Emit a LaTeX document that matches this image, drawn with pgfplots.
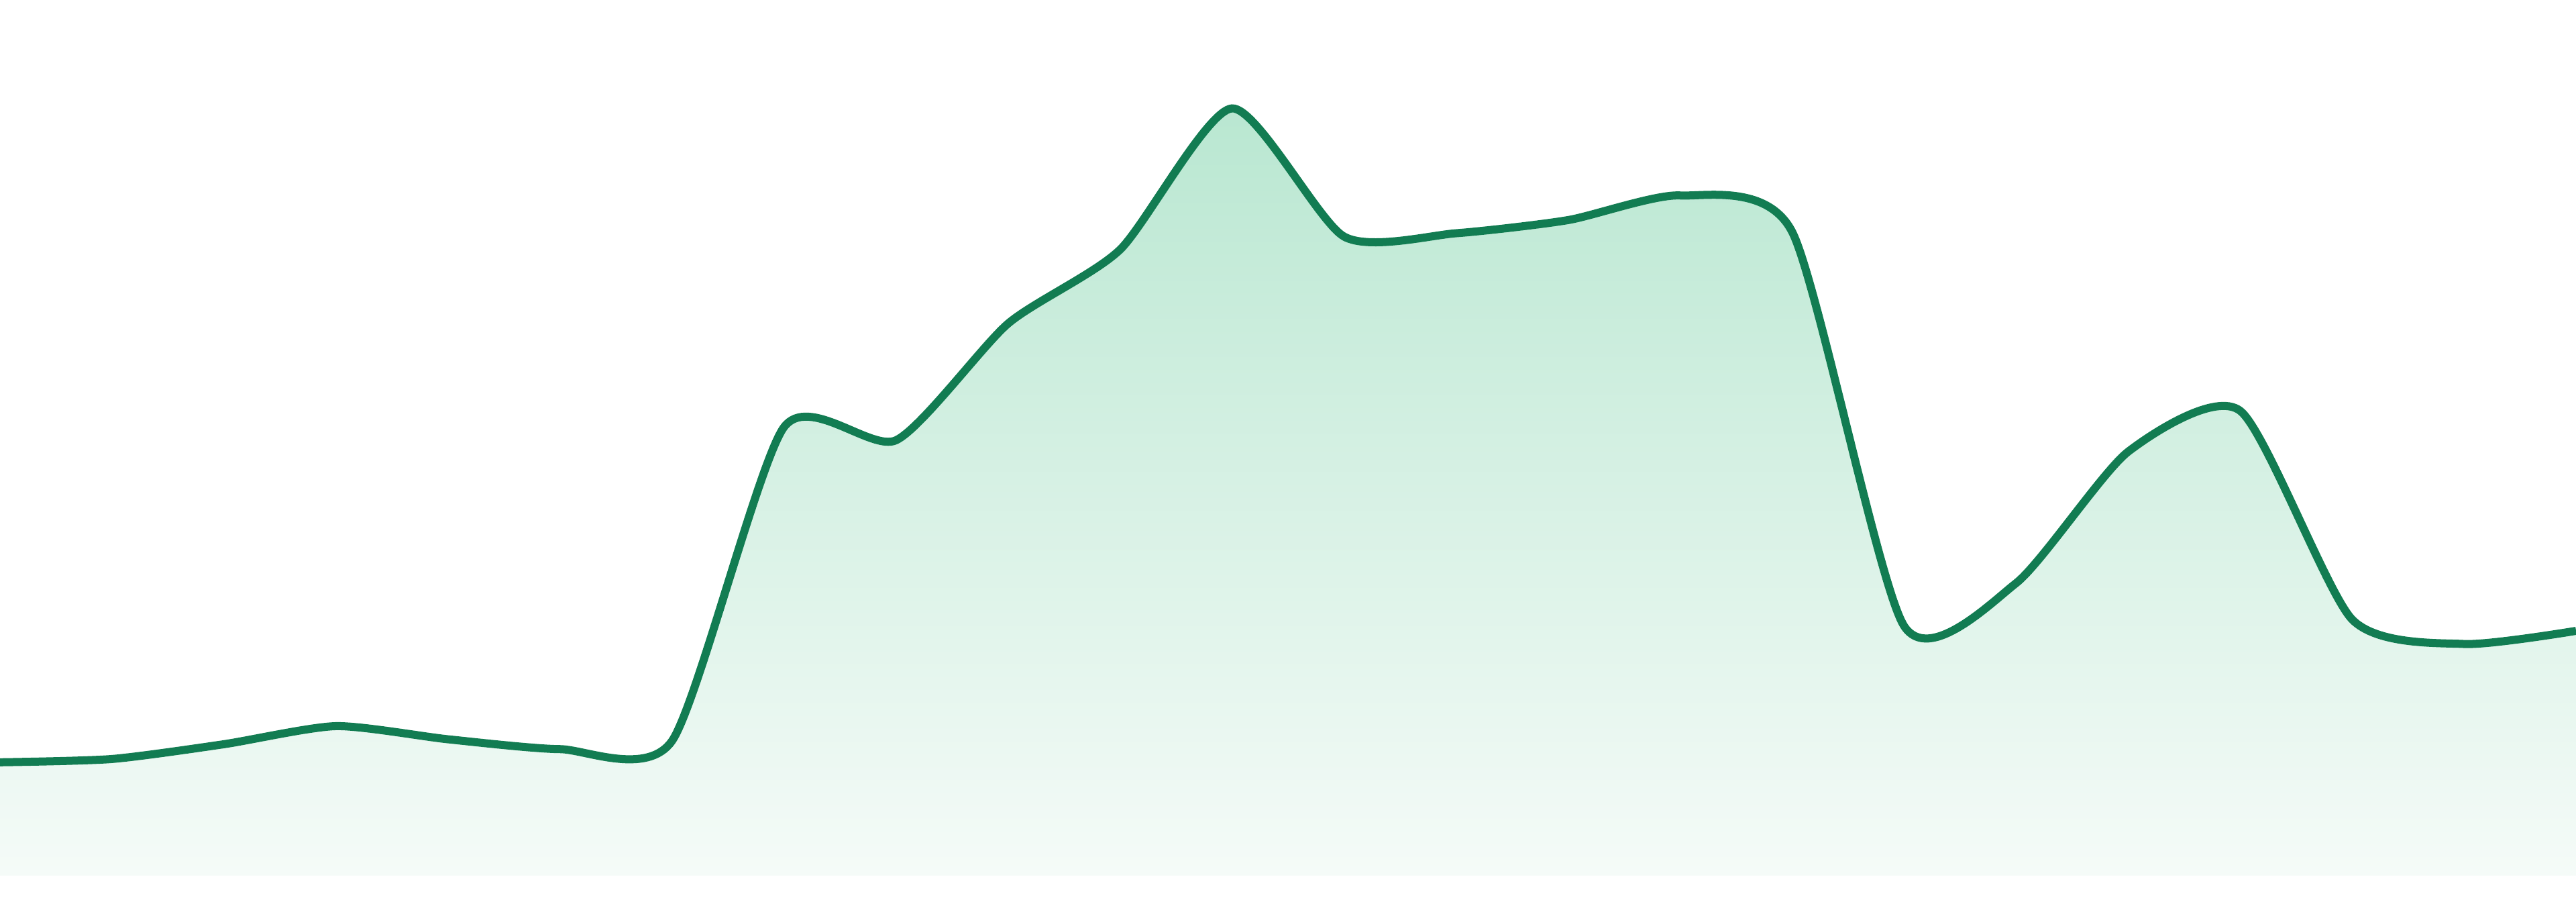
\documentclass[border=0pt]{standalone}
\usepackage{pgfplots}
\pgfplotsset{compat=1.18}
\definecolor{linegreen}{HTML}{127C52}
\definecolor{filltop}{HTML}{B9E7D1}
\definecolor{fillbot}{HTML}{F5FBF8}
\begin{document}
\begin{tikzpicture}
\begin{axis}[
  width=384pt, height=130.48pt, scale only axis,
  axis lines=none, ticks=none,
  xmin=0, xmax=23, ymin=0, ymax=533,
  clip=true,
]
% values: height above the baseline (px at 1568-wide scale)
\addplot[draw=none, top color=filltop, bottom color=fillbot, smooth, tension=0.4] coordinates {
(0,69) (1,71) (2,80) (3,91) (4,83) (5,77) (6,82) (7,273) (8,265) (9,336)
(10,381) (11,467) (12,389) (13,391) (14,399) (15,414) (16,392) (17,152)
(18,178) (19,258) (20,283) (21,156) (22,141) (23,149)
} \closedcycle;
\addplot[linegreen, line width=1.2pt, smooth, tension=0.4] coordinates {
(0,69) (1,71) (2,80) (3,91) (4,83) (5,77) (6,82) (7,273) (8,265) (9,336)
(10,381) (11,467) (12,389) (13,391) (14,399) (15,414) (16,392) (17,152)
(18,178) (19,258) (20,283) (21,156) (22,141) (23,149)
};
\coordinate (SW) at (rel axis cs:0,0);
\coordinate (NE) at (rel axis cs:1,1);
\end{axis}
\pgfresetboundingbox
\path ([yshift=-3.92pt]SW) rectangle (NE);
\end{tikzpicture}
\end{document}
